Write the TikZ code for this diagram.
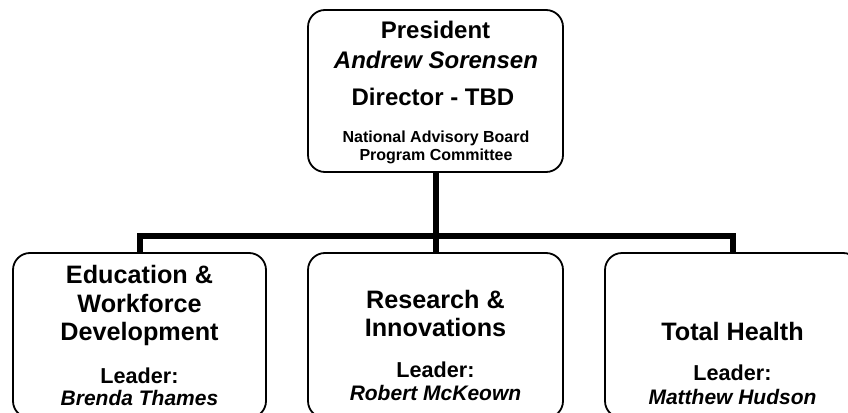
\documentclass[tikz,border=0pt]{standalone}
\usepackage{fontspec}
\setmainfont{Liberation Sans}
\begin{document}
\begin{tikzpicture}[x=1pt,y=-1pt,
  box/.style={draw=black,line width=1.8pt,rounded corners=17pt,inner sep=0pt,fill=white},
  conn/.style={draw=black,line width=6pt,line join=miter},
  lbl/.style={anchor=base,inner sep=0pt},
  big/.style={lbl,font=\bfseries\fontsize{24}{28}\selectfont},
  bigb/.style={lbl,font=\bfseries\fontsize{25.2}{29}\selectfont},
  bigit/.style={lbl,font=\bfseries\itshape\fontsize{24}{28}\selectfont},
  small/.style={lbl,font=\bfseries\fontsize{16}{19}\selectfont},
  lead/.style={lbl,font=\bfseries\fontsize{21.6}{25}\selectfont},
  leadit/.style={lbl,font=\bfseries\itshape\fontsize{21}{25}\selectfont}]
\useasboundingbox (0,0) rectangle (848,412);
\clip (0,0) rectangle (848,412);
\fill[white] (0,0) rectangle (848,412);
% boxes
\node[box,minimum width=255pt,minimum height=162pt] (pres) at (435.5,91) {};
\node[box,minimum width=253pt,minimum height=165pt] (b1) at (139.5,335.5) {};
\node[box,minimum width=255pt,minimum height=165pt] (b2) at (435.5,335.5) {};
\node[box,minimum width=255pt,minimum height=165pt] (b3) at (732.5,335.5) {};
% connectors
\coordinate (barl) at (139.5,236);
\coordinate (barr) at (732.5,236);
\draw[conn] (pres.south) -- (b2.north);
\draw[conn] (b1.north) -- (barl) -- (barr) -- (b3.north);
% top text
\node[big] (t1) at (435.5,39) {President};
\node[bigit] (t2) at (436,68) {Andrew Sorensen};
\node[big] (t3) at (433,105) {Director - TBD};
\node[small] (t4) at (436,142) {National Advisory Board};
\node[small] (t5) at (436,160) {Program Committee};
% box 1
\node[bigb] (a1) at (139.5,283) {Education \&};
\node[bigb] (a2) at (139.5,312) {Workforce};
\node[bigb] (a3) at (139.5,340) {Development};
\node[lead] (a4) at (139.5,383) {Leader:};
\node[leadit] (a5) at (139.5,405) {Brenda Thames};
% box 2
\node[bigb] (r1) at (435.5,308) {Research \&};
\node[bigb] (r2) at (435.5,336) {Innovations};
\node[lead] (r3) at (435.5,377) {Leader:};
\node[leadit] (r4) at (435.5,400) {Robert McKeown};
% box 3
\node[bigb] (h1) at (732.5,340) {Total Health};
\node[lead] (h2) at (732.5,380) {Leader:};
\node[leadit] (h3) at (732.5,404) {Matthew Hudson};
\end{tikzpicture}
\end{document}
